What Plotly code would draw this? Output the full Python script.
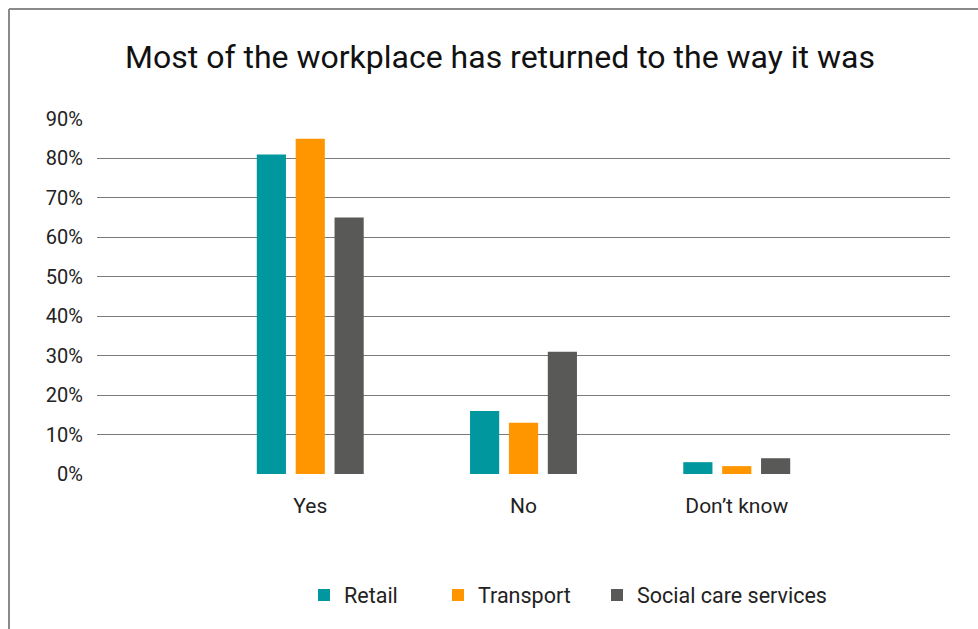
import plotly.graph_objects as go

# Survey answers and share of respondents (%) by sector
categories = ["Yes", "No", "Don’t know"]
retail = [81, 16, 3]
transport = [85, 13, 2]
social_care = [65, 31, 4]

series_names = ["Retail", "Transport", "Social care services"]
series_values = [retail, transport, social_care]
series_colors = ["#00979F", "#FF9600", "#595957"]
legend_ids = ["legend", "legend2", "legend3"]
legend_x_px = [304, 438, 597]

y_ticks = [0, 10, 20, 30, 40, 50, 60, 70, 80, 90]
y_tick_text = [f"{v}%" for v in y_ticks]

W, H = 978, 629
FONT = "Roboto, Arial, sans-serif"

fig = go.Figure()
for name, vals, col, lg in zip(series_names, series_values, series_colors, legend_ids):
    fig.add_trace(go.Bar(
        x=categories, y=vals, name=name, marker_color=col,
        marker_line_width=0, legend=lg, hoverinfo="x+y+name",
    ))

legend_common = dict(
    orientation="h", xref="container", yref="container",
    yanchor="middle", y=1 - 595 / H, xanchor="left",
    font=dict(family=FONT, size=21.5, color="#222222"),
    bgcolor="rgba(0,0,0,0)", borderwidth=0,
)

layout_legends = {}
for lg, xp in zip(legend_ids, legend_x_px):
    layout_legends[lg] = dict(legend_common, x=xp / W)

fig.update_layout(
    width=W, height=H,
    margin=dict(l=97, r=28, t=119, b=155),
    paper_bgcolor="white", plot_bgcolor="white",
    barmode="group", bargap=0.453, bargroupgap=0.25,
    title=dict(
        text="Most of the workplace has returned to the way it was",
        font=dict(family=FONT, size=32, color="#111111"),
        x=500 / W, xanchor="center", xref="container",
        y=1 - 57 / H, yanchor="middle", yref="container",
    ),
    xaxis=dict(
        range=[-1.0, 3.0], showgrid=False, zeroline=False, showline=False,
        ticks="outside", ticklen=13, tickcolor="rgba(0,0,0,0)",
        tickfont=dict(family=FONT, size=21, color="#222222"),
    ),
    yaxis=dict(
        range=[0, 90], tickvals=y_ticks, ticktext=y_tick_text,
        showgrid=True, gridcolor="#7a7a7a", gridwidth=1,
        zeroline=False, showline=False,
        ticks="outside", ticklen=9, tickcolor="rgba(0,0,0,0)",
        tickfont=dict(family=FONT, size=20, color="#222222"),
    ),
    showlegend=True,
    **layout_legends,
)

# Outer frame: top and left edges of the chart border
px0, py0 = 9, 9
plot_l, plot_r, plot_t, plot_b = 97, W - 28, 119, H - 155
def to_paper_x(px):
    return (px - plot_l) / (plot_r - plot_l)
def to_paper_y(py):
    return (plot_b - py) / (plot_b - plot_t)

fig.add_shape(type="line", xref="paper", yref="paper",
              x0=to_paper_x(px0), x1=to_paper_x(W + 10),
              y0=to_paper_y(py0), y1=to_paper_y(py0),
              line=dict(color="#8a8a8a", width=2))
fig.add_shape(type="line", xref="paper", yref="paper",
              x0=to_paper_x(px0), x1=to_paper_x(px0),
              y0=to_paper_y(py0), y1=to_paper_y(H + 10),
              line=dict(color="#8a8a8a", width=2))

fig.write_html("out.html")
